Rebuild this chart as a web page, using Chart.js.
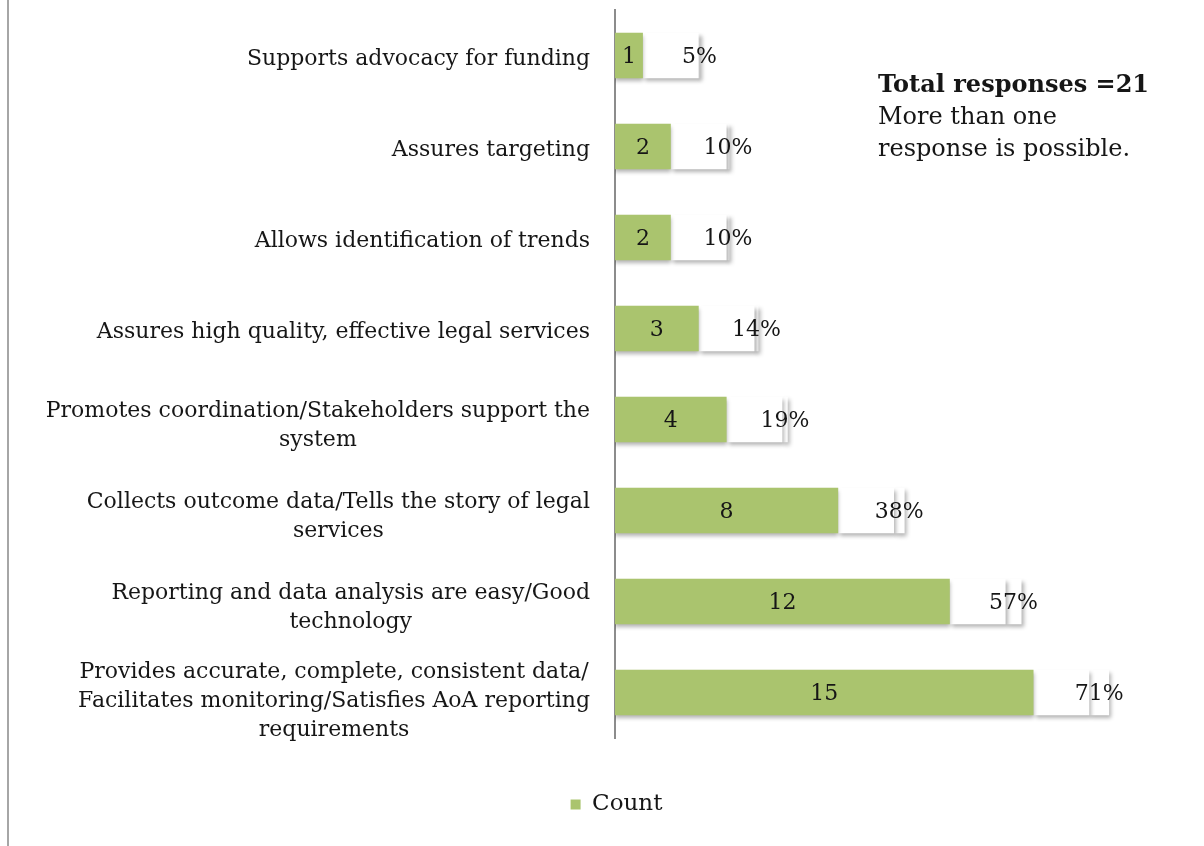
<!DOCTYPE html>
<html>
<head>
<meta charset="utf-8">
<script src="https://cdn.jsdelivr.net/npm/chart.js@4.4.1/dist/chart.umd.min.js"></script>
<style>
  html, body { margin: 0; padding: 0; background: #fff; }
  #wrap { width: 1204px; height: 846px; position: relative; }
</style>
</head>
<body>
<div id="wrap"><canvas id="myChart" width="1204" height="846"></canvas></div>
<script>
const categories = [
  ["Supports advocacy for funding"],
  ["Assures targeting"],
  ["Allows identification of trends"],
  ["Assures high quality, effective legal services"],
  ["Promotes coordination/Stakeholders support the", "system"],
  ["Collects outcome data/Tells the story of legal", "services"],
  ["Reporting and data analysis are easy/Good", "technology"],
  ["Provides accurate, complete, consistent data/", "Facilitates monitoring/Satisfies AoA reporting", "requirements"]
]
const counts = [1, 2, 2, 3, 4, 8, 12, 15]
// white gap between the count and the share
const spacer = [2, 2, 2, 2, 2, 2, 2, 2]
const shares = [0.05, 0.10, 0.10, 0.14, 0.19, 0.38, 0.57, 0.71]
const noteLines = ["Total responses =21", "More than one", "response is possible."]

const serif = "'DejaVu Serif', serif"
const green = '#aac46e'
const textColor = '#161616'

// soft drop shadow under every segment
const shadowPlugin = {
  id: 'barShadow',
  beforeDatasetDraw(chart, args) {
    const ctx = chart.ctx
    ctx.save()
    ctx.shadowColor = 'rgba(0,0,0,0.3)'
    ctx.shadowBlur = 4
    ctx.shadowOffsetX = args.index === 0 ? 0 : 2
    ctx.shadowOffsetY = 3
  },
  afterDatasetDraw(chart) {
    chart.ctx.restore()
  }
}

const extrasPlugin = {
  id: 'extras',
  beforeDraw(chart) {
    const ctx = chart.ctx
    ctx.save()
    ctx.fillStyle = '#a6a6a6'
    ctx.fillRect(7, 0, 2, chart.height)
    ctx.restore()
  },
  afterDraw(chart) {
    const ctx = chart.ctx
    const y = chart.scales.y
    const area = chart.chartArea
    ctx.save()
    ctx.fillStyle = textColor
    ctx.font = '22px ' + serif
    ctx.textBaseline = 'middle'
    ctx.textAlign = 'center'

    // category names: block right aligned, lines centered
    const lineH = 29
    categories.forEach((lines, i) => {
      const n = lines.length
      const cy = y.getPixelForValue(i) + 4 + (n - 1) * 2.5
      const w = Math.max(...lines.map(l => ctx.measureText(l).width))
      const cx = area.left - 25 - w / 2
      const top = cy - (n - 1) * lineH / 2
      lines.forEach((l, j) => ctx.fillText(l, cx, top + j * lineH))
    })

    // values on the bars
    const countBars = chart.getDatasetMeta(0).data
    const shareBars = chart.getDatasetMeta(2).data
    countBars.forEach((bar, i) => {
      ctx.fillText(String(counts[i]), (bar.x + bar.base) / 2, bar.y + 2)
    })
    shareBars.forEach((bar, i) => {
      ctx.fillText(Math.round(shares[i] * 100) + '%', (bar.x + bar.base) / 2, bar.y + 2)
    })

    // note at top right
    ctx.textAlign = 'left'
    ctx.font = 'bold 24px ' + serif
    ctx.fillText(noteLines[0], 878, 86)
    ctx.font = '24px ' + serif
    ctx.fillText(noteLines[1], 878, 118)
    ctx.fillText(noteLines[2], 878, 150)
    ctx.restore()
  }
}

const bar = { borderWidth: 0, barPercentage: 0.5, categoryPercentage: 1 }

const ctx = document.getElementById('myChart')
new Chart(ctx, {
  type: 'bar',
  data: {
    labels: categories,
    datasets: [
      { label: 'Count', data: counts, backgroundColor: green, ...bar },
      { label: 'Gap', data: spacer, backgroundColor: '#ffffff', ...bar },
      { label: 'Share', data: shares, backgroundColor: '#ffffff', ...bar }
    ]
  },
  options: {
    indexAxis: 'y',
    responsive: false,
    animation: false,
    layout: { padding: { left: 60, right: 31, top: 10, bottom: 20 } },
    scales: {
      x: {
        stacked: true, min: 0, max: 20,
        grid: { display: false },
        ticks: { display: false },
        border: { display: false },
        afterFit(scale) { scale.height = 35 }
      },
      y: {
        stacked: true,
        grid: { display: false },
        ticks: { display: false },
        border: { color: '#8c8c8c', width: 2 },
        afterFit(scale) { scale.width = 555 }
      }
    },
    plugins: {
      tooltip: { enabled: false },
      legend: {
        position: 'bottom',
        labels: {
          filter: item => item.datasetIndex === 0,
          boxWidth: 10,
          boxHeight: 10,
          padding: 20,
          color: textColor,
          font: { family: serif, size: 23 }
        }
      }
    }
  },
  plugins: [shadowPlugin, extrasPlugin]
})
</script>
</body>
</html>
